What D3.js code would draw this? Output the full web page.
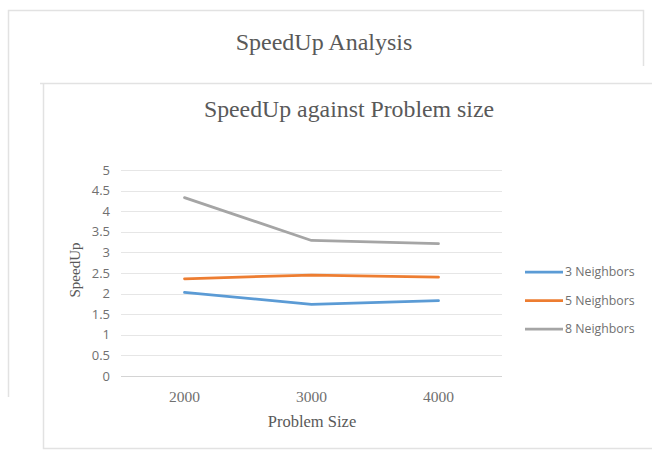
<!DOCTYPE html>
<html>
<head>
<meta charset="utf-8">
<script src="https://cdn.jsdelivr.net/npm/d3@7"></script>
<style>
  html, body { margin: 0; padding: 0; background: #fff; }
  svg { display: block; }
</style>
</head>
<body>
<svg id="chart" width="652" height="450"></svg>
<script>
// Problem sizes on the x axis
const categories = ["2000", "3000", "4000"];
// Series names and speedup values per problem size
const seriesNames = ["3 Neighbors", "5 Neighbors", "8 Neighbors"];
const neighbors3 = [2.03, 1.74, 1.83];
const neighbors5 = [2.36, 2.45, 2.40];
const neighbors8 = [4.33, 3.29, 3.21];
const yTicks = [0, 0.5, 1, 1.5, 2, 2.5, 3, 3.5, 4, 4.5, 5];
const colors = ["#5b9bd5", "#ed7d31", "#a5a5a5"];

const series = [neighbors3, neighbors5, neighbors8].map((v, i) => ({ name: seriesNames[i], values: v, color: colors[i] }));

const svg = d3.select("#chart");
const serif = "'Liberation Serif', 'DejaVu Serif', serif";
const sans = "'Open Sans', 'Liberation Sans', sans-serif";

// Outer frame (open at the right bottom)
svg.append("path")
  .attr("d", "M8.5,397 V10.5 H643.5 V66")
  .attr("fill", "none").attr("stroke", "#e2e2e2").attr("stroke-width", 1.5);

svg.append("text")
  .attr("x", 324).attr("y", 50)
  .attr("text-anchor", "middle")
  .attr("font-family", serif).attr("font-size", 24)
  .attr("fill", "#595959")
  .text("SpeedUp Analysis");

// Inner chart frame
svg.append("path")
  .attr("d", "M652,83.5 H40 M43.5,84 V448.5 H652")
  .attr("fill", "none").attr("stroke", "#e2e2e2").attr("stroke-width", 1.5);

svg.append("text")
  .attr("x", 349).attr("y", 117)
  .attr("text-anchor", "middle")
  .attr("font-family", serif).attr("font-size", 23.8)
  .attr("fill", "#595959")
  .text("SpeedUp against Problem size");

// Plot area
const plot = { left: 121, right: 502, top: 170, bottom: 376 };

const x = d3.scaleBand().domain(categories).range([plot.left, plot.right]);
const y = d3.scaleLinear().domain([0, 5]).range([plot.bottom, plot.top]);

// Gridlines
svg.append("g").selectAll("line").data(yTicks).join("line")
  .attr("x1", plot.left).attr("x2", plot.right)
  .attr("y1", d => Math.round(y(d)) + 0.5).attr("y2", d => Math.round(y(d)) + 0.5)
  .attr("stroke", d => d === 0 ? "#d4d4d4" : "#e6e6e6").attr("stroke-width", 1);

// Y axis tick labels
const yAxis = d3.axisLeft(y).tickValues(yTicks).tickSize(0).tickPadding(0).tickFormat(d3.format("~g"));
const yg = svg.append("g").attr("transform", `translate(${plot.left - 11},0)`).call(yAxis);
yg.select(".domain").remove();
yg.selectAll("text")
  .attr("font-family", sans).attr("font-size", 13).attr("fill", "#707070");

// X axis tick labels
const xAxis = d3.axisBottom(x).tickSize(0).tickPadding(0);
const xg = svg.append("g").attr("transform", `translate(0,${plot.bottom + 15})`).call(xAxis);
xg.select(".domain").remove();
xg.selectAll("text")
  .attr("font-family", serif).attr("font-size", 15.5).attr("fill", "#707070");

// Axis titles
svg.append("text")
  .attr("transform", "translate(80,270) rotate(-90)")
  .attr("text-anchor", "middle")
  .attr("font-family", serif).attr("font-size", 15)
  .attr("fill", "#595959")
  .text("SpeedUp");

svg.append("text")
  .attr("x", 312).attr("y", 427)
  .attr("text-anchor", "middle")
  .attr("font-family", serif).attr("font-size", 16.5)
  .attr("fill", "#595959")
  .text("Problem Size");

// Series lines
const line = d3.line()
  .x((d, i) => x(categories[i]) + x.bandwidth() / 2)
  .y(d => y(d));

svg.append("g").selectAll("path").data(series).join("path")
  .attr("d", d => line(d.values))
  .attr("fill", "none")
  .attr("stroke", d => d.color)
  .attr("stroke-width", 2.75)
  .attr("stroke-linejoin", "round")
  .attr("stroke-linecap", "round");

// Legend
const legend = svg.append("g").selectAll("g").data(series).join("g")
  .attr("transform", (d, i) => `translate(525,${272 + i * 28.5})`);
legend.append("line")
  .attr("x1", 0).attr("x2", 38).attr("y1", 0).attr("y2", 0)
  .attr("stroke", d => d.color).attr("stroke-width", 2.75);
legend.append("text")
  .attr("x", 40).attr("y", 4)
  .attr("font-family", sans).attr("font-size", 12.3)
  .attr("fill", "#707070")
  .text(d => d.name);
</script>
</body>
</html>
